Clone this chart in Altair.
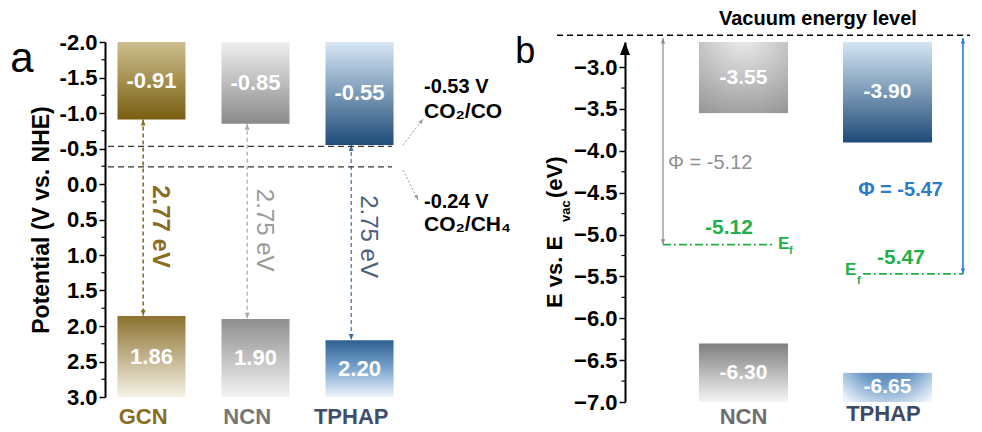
import altair as alt
import pandas as pd

# ---------------- data ----------------
cats_a = ["GCN", "NCN", "TPHAP"]
cb_a = [-0.91, -0.85, -0.55]          # conduction band (V vs. NHE)
vb_a = [1.86, 1.90, 2.20]             # valence band (V vs. NHE)
gap_a = [2.77, 2.75, 2.75]            # band gaps (eV)
redox_pot = [-0.53, -0.24]
redox_pair = ["CO₂/CO", "CO₂/CH₄"]
ticks_a = [-2.0, -1.5, -1.0, -0.5, 0.0, 0.5, 1.0, 1.5, 2.0, 2.5, 3.0]
minor_a = [-1.75, -1.25, -0.75, -0.25, 0.25, 0.75, 1.25, 1.75, 2.25, 2.75]

cats_b = ["NCN", "TPHAP"]
cb_b = [-3.55, -3.90]
vb_b = [-6.30, -6.65]
fermi_b = [-5.12, -5.47]
ticks_b = [-3.0, -3.5, -4.0, -4.5, -5.0, -5.5, -6.0, -6.5, -7.0]
minor_b = [-3.25, -3.75, -4.25, -4.75, -5.25, -5.75, -6.25, -6.75]
top_b = -2.7
vacuum_b = -2.62

# ---------------- styles ----------------
FONT = "Liberation Sans"
TXT_A = {"GCN": "#8a6d1f", "NCN": "#767676", "TPHAP": "#3f4e6c"}
ARROW_A = {"GCN": "#8a6d1f", "NCN": "#a8a8a8", "TPHAP": "#3d6c9a"}
GAPTXT_A = {"GCN": "#8a6d1f", "NCN": "#9a9a9a", "TPHAP": "#4c5d7c"}
GAPW_A = {"GCN": "bold", "NCN": "normal", "TPHAP": "normal"}
TXT_B = {"NCN": "#6e6e6e", "TPHAP": "#3d4a66"}
GREEN = "#22b04b"
BLUE = "#2a7cc7"
GREY = "#8c8c8c"


def lin(stops, horizontal=False):
    return alt.LinearGradient(
        gradient="linear",
        stops=[alt.GradientStop(offset=o, color=c) for o, c in stops],
        x1=0, y1=0, x2=1 if horizontal else 0, y2=0 if horizontal else 1)


def rad(stops, cy=0.0, r=1.1):
    return alt.RadialGradient(
        gradient="radial",
        stops=[alt.GradientStop(offset=o, color=c) for o, c in stops],
        x1=0.5, y1=cy, r1=0, x2=0.5, y2=cy, r2=r)


GRAD_A_TOP = {
    "GCN": lin([(0, "#cdbf8e"), (1, "#785e12")]),
    "NCN": lin([(0, "#efefef"), (1, "#8a8a8a")]),
    "TPHAP": lin([(0, "#d7e7f6"), (1, "#1f4c78")]),
}
GRAD_A_BOT = {
    "GCN": lin([(0, "#8c7230"), (1, "#f6f2e6")]),
    "NCN": lin([(0, "#8e8e8e"), (1, "#f3f3f3")]),
    "TPHAP": lin([(0, "#2e5f90"), (0.5, "#79a5cf"), (1, "#eef4fa")]),
}
GRAD_B_TOP = {
    "NCN": rad([(0, "#f0f0f0"), (1, "#8f8f8f")]),
    "TPHAP": lin([(0, "#d5e6f5"), (1, "#1f4b77")]),
}
GRAD_B_BOT = {
    "NCN": lin([(0, "#7e7e7e"), (1, "#f5f5f5")]),
    "TPHAP": rad([(0, "#2b5b8c"), (0.55, "#6d9bc9"), (1, "#eef4fa")], cy=0.05, r=0.75),
}

UP = "M0,0L-0.5,1.3L0.5,1.3Z"
DOWN = "M0,0L-0.5,-1.3L0.5,-1.3Z"
AXIS_UP = "M0,0L-0.77,2L0.77,2Z"

XA = alt.Scale(domain=[-0.447, 3.591], nice=False, zero=False)
YA = alt.Scale(domain=[ticks_a[0], ticks_a[-1]], reverse=True, nice=False, zero=False)
XB = alt.Scale(domain=[-0.823, 1.573], nice=False, zero=False)
YB = alt.Scale(domain=[ticks_b[-1], top_b], nice=False, zero=False)

AXIS_A = alt.Axis(
    values=ticks_a, title="Potential (V vs. NHE)", titleFont=FONT,
    titleFontSize=23, titleFontWeight="bold", titleColor="black", titlePadding=6,
    labelFont=FONT, labelFontSize=22, labelFontWeight="bold", labelColor="black",
    labelPadding=2, labelExpr="replace(format(datum.value, '.1f'), '\u2212', '-')",
    tickSize=6, tickWidth=1.5, tickColor="black", domainColor="black",
    domainWidth=2, grid=False, labelFlush=False, labelOverlap=False)

AXIS_B = alt.Axis(
    values=ticks_b, format=".1f", title=None,
    labelFont=FONT, labelFontSize=22, labelFontWeight="bold", labelColor="black",
    labelPadding=2, tickSize=6, tickWidth=1.5, tickColor="black",
    domainColor="black", domainWidth=2, grid=False, labelFlush=False,
    labelOverlap=False)

AXES = {id(YA): AXIS_A, id(YB): AXIS_B}


def _x(s, f="x"):
    return alt.X(f, type="quantitative", scale=s, axis=None)


def _y(s, f="y"):
    return alt.Y(f, type="quantitative", scale=s, axis=AXES[id(s)])


def rect(XS, YS, x0, x1, y0, y1, fill):
    df = pd.DataFrame({"x": [x0], "x2": [x1], "y": [y0], "y2": [y1]})
    return alt.Chart(df).mark_rect(fill=fill).encode(
        x=_x(XS), x2="x2", y=_y(YS), y2="y2")


def text(XS, YS, xs, ys, texts, colors=None, **mk):
    df = pd.DataFrame({"x": xs, "y": ys, "t": texts})
    enc = dict(x=_x(XS), y=_y(YS), text="t:N")
    if colors is not None:
        df["c"] = colors
        enc["color"] = alt.Color("c:N", scale=None)
    return alt.Chart(df).mark_text(font=FONT, **mk).encode(**enc)


def seg(XS, YS, x0, y0, x1, y1, **mk):
    df = pd.DataFrame({"x": x0, "y": y0, "x2": x1, "y2": y1})
    return alt.Chart(df).mark_rule(**mk).encode(
        x=_x(XS), y=_y(YS), x2="x2", y2="y2")


def head(XS, YS, xs, ys, shape, size, color, angle=0):
    df = pd.DataFrame({"x": xs, "y": ys})
    return alt.Chart(df).mark_point(
        shape=shape, size=size, filled=True, color=color, opacity=1,
        angle=angle, strokeWidth=0).encode(x=_x(XS), y=_y(YS))


# ---------------- panel a ----------------
TOP_A, BOT_A = ticks_a[0], ticks_a[-1]
HW_A = 0.327
DX_A = -0.08
idx_a = list(range(len(cats_a)))
gap_label_y = [0.6, 0.65, 0.74]

layers_a = [
    alt.Chart(pd.DataFrame({"y": minor_a})).mark_rule(
        color="black", strokeWidth=1.2).encode(
        x=alt.value(0), x2=alt.value(-3.5), y=_y(YA)),
]
for i, c in enumerate(cats_a):
    layers_a.append(rect(XA, YA, i - HW_A, i + HW_A, TOP_A, cb_a[i], GRAD_A_TOP[c]))
    layers_a.append(rect(XA, YA, i - HW_A, i + HW_A, vb_a[i], BOT_A, GRAD_A_BOT[c]))
    xa = i + DX_A
    layers_a.append(seg(XA, YA, [xa], [cb_a[i]], [xa], [vb_a[i]],
                        color=ARROW_A[c], strokeDash=[4, 3],
                        strokeWidth=1.6 if c == "GCN" else 1.2))
    layers_a.append(head(XA, YA, [xa], [cb_a[i]], UP, 90, ARROW_A[c]))
    layers_a.append(head(XA, YA, [xa], [vb_a[i]], DOWN, 90, ARROW_A[c]))
    layers_a.append(text(XA, YA, [xa + 0.16], [gap_label_y[i]], [f"{gap_a[i]:.2f} eV"],
                         angle=90, color=GAPTXT_A[c], fontSize=24,
                         fontWeight=GAPW_A[c]))

layers_a += [
    text(XA, YA, idx_a, [(TOP_A + v) / 2 for v in cb_a], [f"{v:.2f}" for v in cb_a],
         color="white", fontSize=22, fontWeight="bold"),
    text(XA, YA, idx_a, [(BOT_A + v) / 2 for v in vb_a], [f"{v:.2f}" for v in vb_a],
         color="white", fontSize=22, fontWeight="bold"),
    text(XA, YA, [i + DX_A for i in idx_a], [3.28] * 3, cats_a,
         colors=[TXT_A[c] for c in cats_a], fontSize=22, fontWeight="bold"),
    seg(XA, YA, [-0.418] * 2, redox_pot, [2.313] * 2, redox_pot,
        color="#333333", strokeDash=[6, 4], strokeWidth=1.2),
    seg(XA, YA, [2.418, 2.418], [-0.549, -0.197], [2.611, 2.563], [-0.915, 0.225],
        color="#999999", strokeDash=[2, 2], strokeWidth=1),
    head(XA, YA, [2.611], [-0.915], UP, 60, "#999999", angle=38),
    head(XA, YA, [2.563], [0.225], UP, 60, "#999999", angle=153),
    text(XA, YA, [2.62, 2.62], [-1.366, 0.254], [f"{p:.2f} V" for p in redox_pot],
         align="left", color="black", fontSize=20, fontWeight="bold"),
    text(XA, YA, [2.62, 2.62], [-1.014, 0.577], redox_pair,
         align="left", color="black", fontSize=21, fontWeight="bold"),
    text(XA, YA, [-1.245], [-1.76], ["a"], color="black", fontSize=42),
]

panel_a = alt.layer(*layers_a).properties(width=420, height=355)

# ---------------- panel b ----------------
HW_B = 0.309
idx_b = list(range(len(cats_b)))
phi_x = [-0.559, 1.524]

layers_b = [
    alt.Chart(pd.DataFrame({"y": minor_b})).mark_rule(
        color="black", strokeWidth=1.2).encode(
        x=alt.value(0), x2=alt.value(-3.5), y=_y(YB)),
    alt.Chart(pd.DataFrame({"y": [top_b]})).mark_point(
        shape=AXIS_UP, size=169, filled=True, color="black", opacity=1,
        strokeWidth=0).encode(x=alt.value(0), y=_y(YB)),
]
for i, c in enumerate(cats_b):
    layers_b.append(rect(XB, YB, i - HW_B, i + HW_B, top_b, cb_b[i], GRAD_B_TOP[c]))
    layers_b.append(rect(XB, YB, i - HW_B, i + HW_B, ticks_b[-1], vb_b[i], GRAD_B_BOT[c]))

layers_b += [
    text(XB, YB, idx_b, [(top_b + v) / 2 for v in cb_b], [f"{v:.2f}" for v in cb_b],
         color="white", fontSize=21, fontWeight="bold"),
    text(XB, YB, idx_b, [(ticks_b[-1] + v) / 2 for v in vb_b], [f"{v:.2f}" for v in vb_b],
         color="white", fontSize=21, fontWeight="bold"),
    text(XB, YB, [0, 0.972], [-7.18, -7.144], cats_b,
         colors=[TXT_B[c] for c in cats_b], fontSize=22, fontWeight="bold"),
    # vacuum level
    seg(XB, YB, [-1.295], [vacuum_b], [1.573], [vacuum_b],
        color="black", strokeDash=[6, 4], strokeWidth=1.5),
    text(XB, YB, [0.517], [-2.431], ["Vacuum energy level"], color="black",
         fontSize=20, fontWeight="bold"),
    # work function arrows
    seg(XB, YB, [phi_x[0]], [-2.652], [phi_x[0]], [fermi_b[0]], color=GREY, strokeWidth=1.2),
    head(XB, YB, [phi_x[0]], [-2.652], UP, 70, GREY),
    head(XB, YB, [phi_x[0]], [fermi_b[0]], DOWN, 70, GREY),
    seg(XB, YB, [phi_x[1]], [-2.652], [phi_x[1]], [fermi_b[1]], color=BLUE, strokeWidth=1.6),
    head(XB, YB, [phi_x[1]], [-2.652], UP, 70, BLUE),
    head(XB, YB, [phi_x[1]], [fermi_b[1]], DOWN, 70, BLUE),
    text(XB, YB, [-0.524], [-4.146], [f"Φ = {fermi_b[0]:.2f}"], align="left",
         color="#909090", fontSize=20),
    text(XB, YB, [1.385], [-4.468], [f"Φ = {fermi_b[1]:.2f}"], align="right",
         color=BLUE, fontSize=20, fontWeight="bold"),
    # Fermi levels
    seg(XB, YB, [-0.559, 0.83], fermi_b, [0.219, 1.524], fermi_b,
        color=GREEN, strokeDash=[8, 3, 2, 3], strokeWidth=1.6),
    text(XB, YB, [-0.101, 1.094], [-4.916, -5.275], [f"{v:.2f}" for v in fermi_b],
         color=GREEN, fontSize=21, fontWeight="bold"),
    text(XB, YB, [0.24, 0.705], [-5.113, -5.424], ["E", "E"], align="left",
         color=GREEN, fontSize=17, fontWeight="bold"),
    text(XB, YB, [0.316, 0.788], [-5.197, -5.556], ["f", "f"], align="left",
         color=GREEN, fontSize=11, fontWeight="bold"),
    # axis title with subscript
    text(XB, YB, [-1.26], [-5.878], ["E vs. E"], angle=270, align="left",
         baseline="alphabetic", color="black", fontSize=22, fontWeight="bold"),
    text(XB, YB, [-1.205], [-4.851], ["vac"], angle=270, align="left",
         baseline="alphabetic", color="black", fontSize=13, fontWeight="bold"),
    text(XB, YB, [-1.26], [-4.564], ["(eV)"], angle=270, align="left",
         baseline="alphabetic", color="black", fontSize=22, fontWeight="bold"),
    text(XB, YB, [-1.516], [-2.82], ["b"], color="black", fontSize=36),
]

panel_b = alt.layer(*layers_b).properties(width=345, height=360)

chart = alt.hconcat(panel_a, panel_b, spacing=100, bounds="flush").configure_view(
    stroke=None).properties(padding={"left": 2, "top": 1, "right": 0, "bottom": 0})

chart.save("out.html", embed_options={"renderer": "svg", "actions": False})
